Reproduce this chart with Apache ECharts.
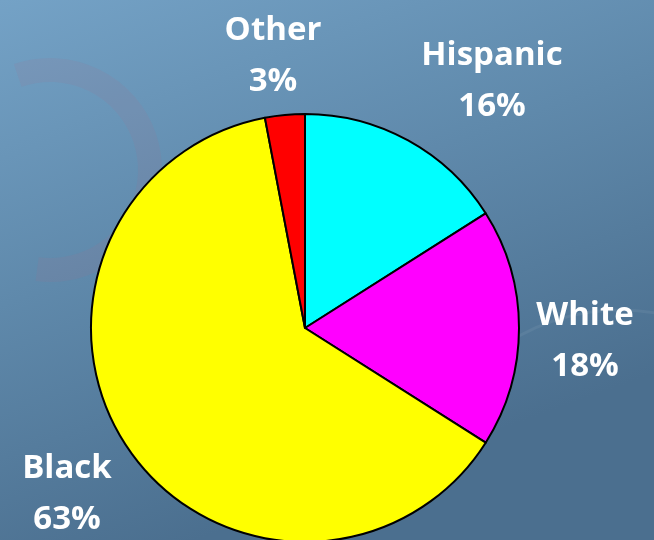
<!DOCTYPE html>
<html>
<head>
<meta charset="utf-8">
<script src="https://cdn.jsdelivr.net/npm/echarts@6/dist/echarts.min.js"></script>
<style>
html,body{margin:0;padding:0;}
#c{width:654px;height:540px;}
</style>
</head>
<body>
<div id="c"></div>
<script>
const categories = ['Hispanic', 'White', 'Black', 'Other'];
const values = [16, 18, 63, 3];
const colors = ['#00FFFF', '#FF00FF', '#FFFF00', '#FF0000'];

const labelPos = {
  Hispanic: [492, 56],
  White: [585, 316],
  Black: [67, 469],
  Other: [273, 31]
};

const chart = echarts.init(document.getElementById('c'));
chart.setOption({
  backgroundColor: {
    type: 'linear', x: 0, y: 0, x2: 0.3, y2: 1,
    colorStops: [
      {offset: 0, color: '#74a2c6'},
      {offset: 0.5, color: '#5f89ab'},
      {offset: 1, color: '#4b6f8f'}
    ]
  },
  graphic: [
    {type: 'arc', shape: {cx: 50, cy: 170, r: 100, startAngle: -1.9, endAngle: 1.7},
     style: {stroke: 'rgba(160,110,140,0.14)', lineWidth: 24, fill: null}, silent: true, z: -1},
    {type: 'arc', shape: {cx: 620, cy: 520, r: 210, startAngle: 3.6, endAngle: 5.0},
     style: {stroke: 'rgba(255,255,255,0.06)', lineWidth: 3, fill: null}, silent: true, z: -1}
  ],
  series: [{
    type: 'pie',
    center: [305, 328],
    radius: 214,
    startAngle: 90,
    clockwise: true,
    silent: true,
    animation: false,
    itemStyle: {borderColor: '#000', borderWidth: 2},
    label: {
      show: true,
      position: 'outside',
      formatter: p => p.name + '\n' + p.value + '%',
      color: '#fff',
      fontFamily: 'Open Sans',
      fontWeight: 'bold',
      fontSize: 33,
      lineHeight: 51,
      align: 'center',
      overflow: 'none',
      width: 200
    },
    labelLine: {show: false},
    labelLayout: function (params) {
      const name = categories[params.dataIndex];
      const p = labelPos[name];
      return {x: p[0], y: p[1] + 25, align: 'center', verticalAlign: 'middle'};
    },
    data: categories.map((c, i) => ({name: c, value: values[i], itemStyle: {color: colors[i]}}))
  }]
});
</script>
</body>
</html>
